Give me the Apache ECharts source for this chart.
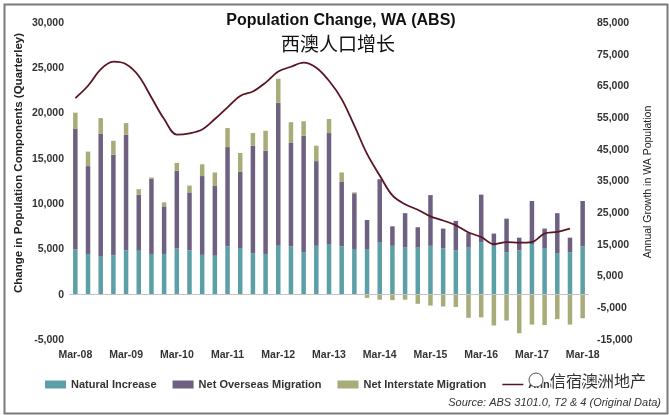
<!DOCTYPE html>
<html>
<head>
<meta charset="utf-8">
<script src="https://cdn.jsdelivr.net/npm/echarts@6/dist/echarts.min.js"></script>
<style>html,body{margin:0;padding:0;background:#fff}#c{width:669px;height:415px}</style>
</head>
<body>
<div id="c"></div>
<script>
const categories = ['Mar-08','Jun-08','Sep-08','Dec-08','Mar-09','Jun-09','Sep-09','Dec-09','Mar-10','Jun-10','Sep-10','Dec-10',
  'Mar-11','Jun-11','Sep-11','Dec-11','Mar-12','Jun-12','Sep-12','Dec-12','Mar-13','Jun-13','Sep-13','Dec-13',
  'Mar-14','Jun-14','Sep-14','Dec-14','Mar-15','Jun-15','Sep-15','Dec-15','Mar-16','Jun-16','Sep-16','Dec-16',
  'Mar-17','Jun-17','Sep-17','Dec-17','Mar-18'];
const naturalIncrease = [5000,4500,4200,4350,4900,4850,4500,4500,5100,4900,4400,4300,5350,5150,4600,4500,5400,5350,4700,5400,
  5600,5350,5050,5050,5750,5400,5200,5200,5400,5100,4900,5200,5800,5400,4700,4900,5600,5150,4600,4700,5350];
const netOverseas = [13300,9700,13600,11100,12750,6200,8300,5250,8600,6400,8700,7700,10950,8450,11850,11400,15800,11400,12850,9350,
  12250,7100,6150,3200,7000,2150,3800,2250,5600,2200,3250,1600,5250,1350,3700,1400,4750,2150,4400,1600,5000];
const netInterstate = [1800,1600,1700,1550,1300,600,150,450,850,750,1300,1500,2100,2050,1400,2200,2650,2300,1600,1700,
  1550,1050,100,-350,-550,-600,-550,-1000,-1200,-1300,-1350,-2550,-2500,-3400,-2850,-4250,-3300,-3350,-2700,-3300,-2600];
const annualGrowth = [61300,65200,70400,72800,72000,68300,61500,54700,49800,50200,51400,54700,58400,62000,63400,66200,69700,71200,72500,70900,
  66800,61000,52600,43700,36900,30600,27800,26100,24000,22700,21200,18900,17500,15200,15900,15700,15900,18600,19100,20100,null];

const FONT = "'Liberation Sans Narrow','Arial Narrow','Liberation Sans',Arial,sans-serif";
const LINE_ICON = 'path://M0,0L0.01,0L0.01,0.01ZM0,3.2H21V4.8H0ZM21,8L20.99,8L20.99,7.99Z';
const fmt = v => v.toLocaleString('en-US');
const chart = echarts.init(document.getElementById('c'));
chart.setOption({
  backgroundColor: '#fff',
  animation: false,
  grid: {left: 69, right: 80, top: 23, bottom: 75},
  legend: {
    left: 40, top: 374, itemGap: 16, itemWidth: 21, itemHeight: 8,
    textStyle: {fontFamily: FONT, fontWeight: 'bold', fontSize: 11, color: '#333'},
    data: [
      {name: 'Natural Increase', icon: 'rect'},
      {name: 'Net Overseas Migration', icon: 'rect'},
      {name: 'Net Interstate Migration', icon: 'rect'},
      {name: 'Annual Growth', icon: LINE_ICON}
    ]
  },
  xAxis: {
    type: 'category', data: categories,
    axisLine: {show: false}, axisTick: {show: false},
    axisLabel: {interval: 3, margin: 10, fontFamily: FONT, fontWeight: 'bold', fontSize: 10.5, color: '#333'}
  },
  yAxis: [
    {type: 'value', min: -5000, max: 30000, interval: 5000,
     splitLine: {show: false}, axisLine: {show: false}, axisTick: {show: false},
     axisLabel: {margin: 5, formatter: fmt, fontFamily: FONT, fontWeight: 'bold', fontSize: 10.5, color: '#333'}},
    {type: 'value', min: -15000, max: 85000, interval: 10000,
     splitLine: {show: false}, axisLine: {show: false}, axisTick: {show: false},
     axisLabel: {margin: 8, formatter: fmt, fontFamily: FONT, fontWeight: 'bold', fontSize: 10.5, color: '#333'}}
  ],
  series: [
    {name: 'Natural Increase', type: 'bar', stack: 'a', barWidth: 4.5, data: naturalIncrease,
     itemStyle: {color: '#5c9fa6'},
     markLine: {silent: true, symbol: 'none', label: {show: false},
       lineStyle: {color: '#c4c4c4', type: 'solid', width: 1}, data: [{yAxis: 0}]}},
    {name: 'Net Overseas Migration', type: 'bar', stack: 'a', barWidth: 4.5, data: netOverseas,
     itemStyle: {color: '#6d6080'}},
    {name: 'Net Interstate Migration', type: 'bar', stack: 'a', barWidth: 4.5, data: netInterstate,
     itemStyle: {color: '#a8ac78'}},
    {name: 'Annual Growth', type: 'line', yAxisIndex: 1, data: annualGrowth, smooth: 0.35,
     symbol: 'none', lineStyle: {color: '#5a1422', width: 1.8}, itemStyle: {color: '#5a1422'}}
  ],
  graphic: [
    {type: 'rect', left: 2, top: 2, shape: {width: 663, height: 409},
     style: {fill: 'none', stroke: '#7a7a7a', lineWidth: 2}, silent: true, z: 100},
    {type: 'text', x: 341, y: 21, style: {text: 'Population Change, WA (ABS)', fontFamily: FONT, fontWeight: 'bold', fontSize: 16,
      fill: '#111', align: 'center', verticalAlign: 'middle'}},
    {type: 'text', x: 338, y: 44, style: {text: '西澳人口增长', fontFamily: "'Noto Sans CJK SC',sans-serif", fontSize: 19,
      fill: '#111', align: 'center', verticalAlign: 'middle'}},
    {type: 'text', x: 19, y: 163, rotation: Math.PI / 2, style: {text: 'Change in Population Components (Quarterley)',
      fontFamily: FONT, fontWeight: 'bold', fontSize: 11.5, fill: '#222', align: 'center', verticalAlign: 'middle'}},
    {type: 'text', x: 648, y: 182, rotation: Math.PI / 2, style: {text: 'Annual Growth in WA Population',
      fontFamily: FONT, fontSize: 10.5, fill: '#222', align: 'center', verticalAlign: 'middle'}},
    {type: 'text', x: 550, y: 381, z: 50, style: {text: '信宿澳洲地产', fontFamily: "'Noto Sans CJK SC',sans-serif", fontSize: 16,
      fill: '#333', align: 'left', verticalAlign: 'middle', stroke: '#fff', lineWidth: 3}},
    {type: 'circle', shape: {cx: 536, cy: 380, r: 7}, z: 50, style: {fill: '#fff', stroke: '#555', lineWidth: 1}},
    {type: 'text', x: 661, y: 403, style: {text: 'Source: ABS 3101.0, T2 & 4 (Original Data)', fontFamily: FONT,
      fontStyle: 'italic', fontSize: 11, fill: '#333', align: 'right', verticalAlign: 'middle'}}
  ]
});
</script>
</body>
</html>
